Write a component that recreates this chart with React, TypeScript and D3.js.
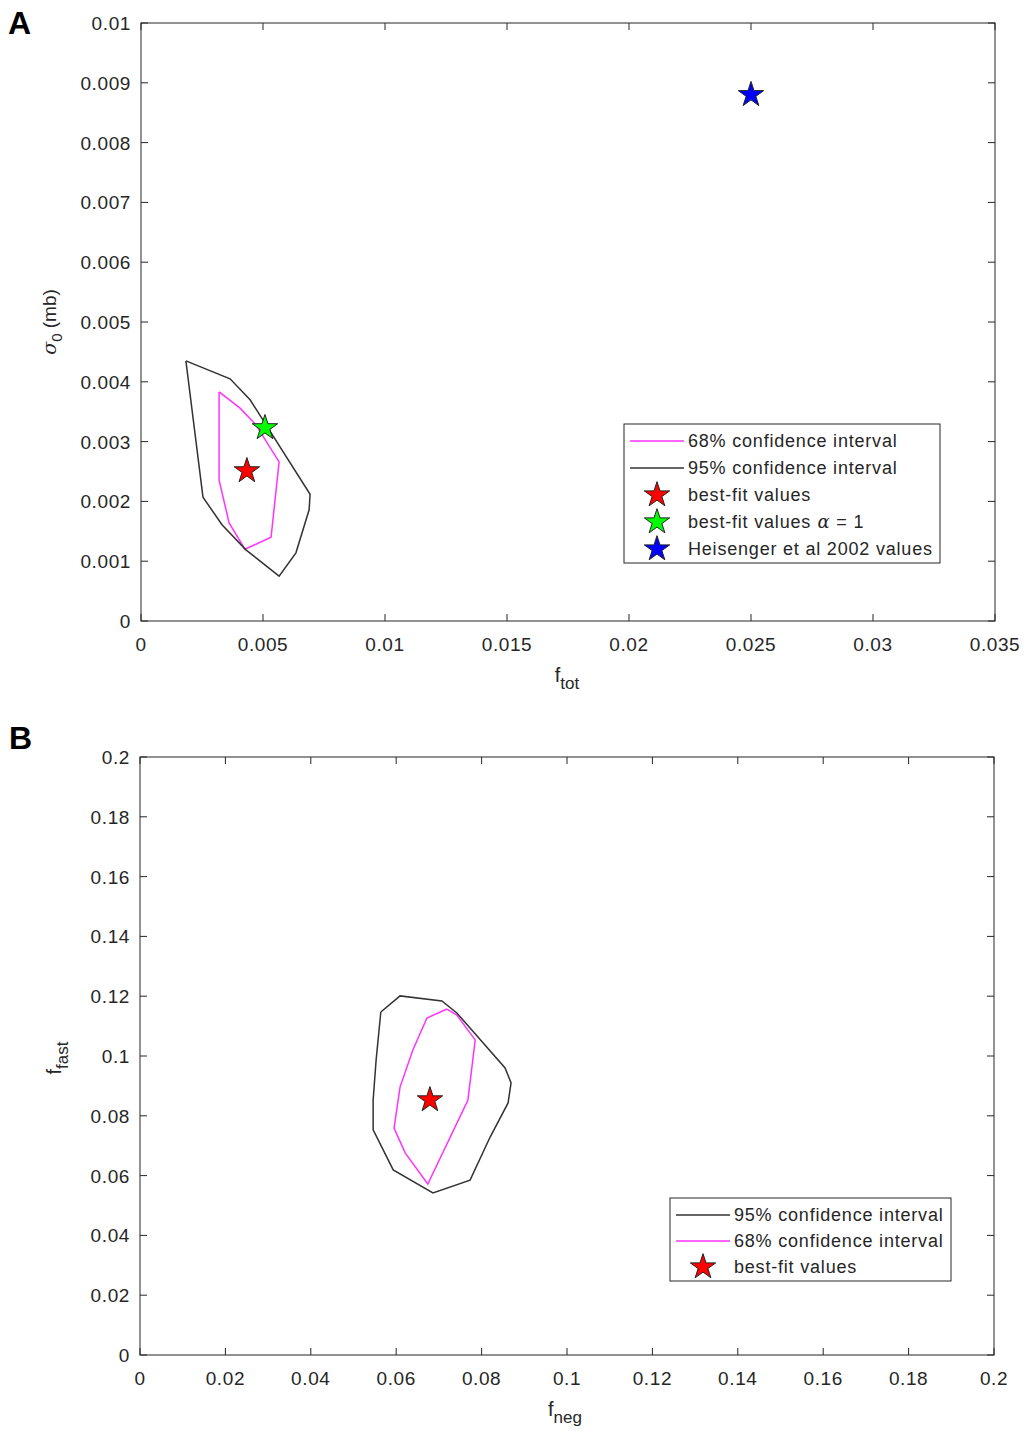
import React, { useRef, useEffect } from "react";
import * as d3 from "d3";

// panel A data: f_tot vs sigma_0
const aContour95: [number, number][] = [
  [0.00184, 0.00435], [0.00365, 0.00405], [0.00447, 0.0037], [0.00693, 0.00212],
  [0.00689, 0.00186], [0.00635, 0.00114], [0.00566, 0.00075], [0.0043, 0.00119],
  [0.00332, 0.00161], [0.00254, 0.00207], [0.00184, 0.00435],
];
const aContour68: [number, number][] = [
  [0.0032, 0.00383], [0.00406, 0.00356], [0.00471, 0.00328], [0.00566, 0.00266],
  [0.00533, 0.0014], [0.00426, 0.0012], [0.00361, 0.00164], [0.0032, 0.00236],
  [0.0032, 0.00383],
];
const aBestFit: [number, number] = [0.00434, 0.00251];
const aBestFitAlpha: [number, number] = [0.00508, 0.00323];
const aHeisenger: [number, number] = [0.025, 0.0088];
const aXTicks = [0, 0.005, 0.01, 0.015, 0.02, 0.025, 0.03, 0.035];
const aYTicks = [0, 0.001, 0.002, 0.003, 0.004, 0.005, 0.006, 0.007, 0.008, 0.009, 0.01];

// panel B data: f_neg vs f_fast
const bContour95: [number, number][] = [
  [0.0564, 0.1147], [0.0609, 0.1201], [0.0707, 0.1184], [0.0742, 0.1144],
  [0.0855, 0.096], [0.0869, 0.091], [0.0862, 0.0843], [0.082, 0.0729],
  [0.0773, 0.0585], [0.0686, 0.0542], [0.0593, 0.0619], [0.0546, 0.0753],
  [0.0546, 0.0853], [0.0553, 0.0987], [0.0564, 0.1147],
];
const bContour68: [number, number][] = [
  [0.0719, 0.1157], [0.0672, 0.1127], [0.0639, 0.102], [0.0609, 0.0896],
  [0.0595, 0.0759], [0.0621, 0.0676], [0.0674, 0.0572], [0.0768, 0.0853],
  [0.0785, 0.1054], [0.0742, 0.1137], [0.0719, 0.1157],
];
const bBestFit: [number, number] = [0.0679, 0.0853];
const bTicks = [0, 0.02, 0.04, 0.06, 0.08, 0.1, 0.12, 0.14, 0.16, 0.18, 0.2];

const FONT = "'Liberation Sans', Arial, sans-serif";
const TXT = "#262626";
const AX = "#262626";
const MAG = "#ff33ff";
const BLK = "#333333";

const fmt = (v: number) => String(+v.toFixed(4));

type Leg = { kind: "line" | "star"; color: string; label: string; alpha?: boolean };

function drawPanel(
  svg: d3.Selection<SVGSVGElement, unknown, null, undefined>,
  opt: {
    box: { x0: number; x1: number; y0: number; y1: number };
    xDom: [number, number]; yDom: [number, number];
    xTicks: number[]; yTicks: number[];
    c95: [number, number][]; c68: [number, number][];
    stars: { p: [number, number]; color: string }[];
    legend: { x: number; y: number; w: number; h: number; rowH: number; items: Leg[] };
  }
) {
  const { box } = opt;
  const x = d3.scaleLinear().domain(opt.xDom).range([box.x0, box.x1]);
  const y = d3.scaleLinear().domain(opt.yDom).range([box.y1, box.y0]);
  const g = svg.append("g");

  g.append("rect").attr("x", box.x0).attr("y", box.y0)
    .attr("width", box.x1 - box.x0).attr("height", box.y1 - box.y0)
    .attr("fill", "white").attr("stroke", AX).attr("stroke-width", 1);

  const tl = 7;
  opt.xTicks.forEach((t) => {
    g.append("line").attr("x1", x(t)).attr("x2", x(t)).attr("y1", box.y1).attr("y2", box.y1 - tl).attr("stroke", AX);
    g.append("line").attr("x1", x(t)).attr("x2", x(t)).attr("y1", box.y0).attr("y2", box.y0 + tl).attr("stroke", AX);
    g.append("text").attr("x", x(t)).attr("y", box.y1 + 30).attr("text-anchor", "middle")
      .attr("font-family", FONT).attr("font-size", 19).attr("letter-spacing", 0.6)
      .attr("fill", TXT).text(fmt(t));
  });
  opt.yTicks.forEach((t) => {
    g.append("line").attr("x1", box.x0).attr("x2", box.x0 + tl).attr("y1", y(t)).attr("y2", y(t)).attr("stroke", AX);
    g.append("line").attr("x1", box.x1).attr("x2", box.x1 - tl).attr("y1", y(t)).attr("y2", y(t)).attr("stroke", AX);
    g.append("text").attr("x", box.x0 - 10).attr("y", y(t) + 7).attr("text-anchor", "end")
      .attr("font-family", FONT).attr("font-size", 19).attr("letter-spacing", 0.6)
      .attr("fill", TXT).text(fmt(t));
  });

  const line = d3.line<[number, number]>().x((d) => x(d[0])).y((d) => y(d[1]));
  g.append("path").attr("d", line(opt.c68)).attr("fill", "none").attr("stroke", MAG).attr("stroke-width", 1.5);
  g.append("path").attr("d", line(opt.c95)).attr("fill", "none").attr("stroke", BLK).attr("stroke-width", 1.5);

  const star = d3.symbol().type(d3.symbolStar).size(200);
  opt.stars.forEach((s) => {
    g.append("path").attr("d", star()).attr("transform", `translate(${x(s.p[0])},${y(s.p[1])})`)
      .attr("fill", s.color).attr("stroke", "#222").attr("stroke-width", 1);
  });

  const L = opt.legend;
  const lg = g.append("g");
  lg.append("rect").attr("x", L.x).attr("y", L.y).attr("width", L.w).attr("height", L.h)
    .attr("fill", "white").attr("stroke", AX);
  L.items.forEach((it, i) => {
    const cy = L.y + 17 + i * L.rowH;
    if (it.kind === "line") {
      lg.append("line").attr("x1", L.x + 6).attr("x2", L.x + 60).attr("y1", cy).attr("y2", cy)
        .attr("stroke", it.color).attr("stroke-width", 1.5);
    } else {
      lg.append("path").attr("d", star()).attr("transform", `translate(${L.x + 33},${cy})`)
        .attr("fill", it.color).attr("stroke", "#222");
    }
    const tx = lg.append("text").attr("x", L.x + 64).attr("y", cy + 6)
      .attr("font-family", FONT).attr("font-size", 18).attr("letter-spacing", 0.8)
      .attr("fill", TXT).text(it.label);
    if (it.alpha) {
      tx.append("tspan").attr("font-family", "'DejaVu Serif', serif").attr("font-style", "italic").text(" α");
      tx.append("tspan").text(" = 1");
    }
  });
  return { x, y };
}

const App = () => {
  const svgRef = useRef<SVGSVGElement>(null);

  useEffect(() => {
    const svg = d3.select(svgRef.current!);
    svg.selectAll("*").remove();
    svg.append("rect").attr("width", 1027).attr("height", 1433).attr("fill", "white");

    drawPanel(svg, {
      box: { x0: 141, x1: 995, y0: 23, y1: 621 },
      xDom: [0, 0.035], yDom: [0, 0.01],
      xTicks: aXTicks, yTicks: aYTicks,
      c95: aContour95, c68: aContour68,
      stars: [
        { p: aBestFit, color: "#ff0000" },
        { p: aBestFitAlpha, color: "#00ff00" },
        { p: aHeisenger, color: "#0000ff" },
      ],
      legend: {
        x: 624, y: 424, w: 316, h: 139, rowH: 27,
        items: [
          { kind: "line", color: MAG, label: "68% confidence interval" },
          { kind: "line", color: BLK, label: "95% confidence interval" },
          { kind: "star", color: "#ff0000", label: "best-fit values" },
          { kind: "star", color: "#00ff00", label: "best-fit values", alpha: true },
          { kind: "star", color: "#0000ff", label: "Heisenger et al 2002 values" },
        ],
      },
    });

    drawPanel(svg, {
      box: { x0: 140, x1: 994, y0: 757, y1: 1355 },
      xDom: [0, 0.2], yDom: [0, 0.2],
      xTicks: bTicks, yTicks: bTicks,
      c95: bContour95, c68: bContour68,
      stars: [{ p: bBestFit, color: "#ff0000" }],
      legend: {
        x: 670, y: 1198, w: 281, h: 83, rowH: 26,
        items: [
          { kind: "line", color: BLK, label: "95% confidence interval" },
          { kind: "line", color: MAG, label: "68% confidence interval" },
          { kind: "star", color: "#ff0000", label: "best-fit values" },
        ],
      },
    });

    // panel letters
    svg.append("text").attr("x", 8).attr("y", 34).attr("font-family", FONT).attr("font-weight", "bold")
      .attr("font-size", 32).attr("fill", "#000").text("A");
    svg.append("text").attr("x", 9).attr("y", 749).attr("font-family", FONT).attr("font-weight", "bold")
      .attr("font-size", 32).attr("fill", "#000").text("B");

    // axis labels
    const lab = (xx: number, yy: number, main: string, sub: string, rot: boolean) => {
      const t = svg.append("text").attr("font-family", FONT).attr("font-size", 20).attr("fill", TXT)
        .attr("text-anchor", "middle");
      if (rot) t.attr("transform", `translate(${xx},${yy}) rotate(-90)`);
      else t.attr("x", xx).attr("y", yy);
      t.append("tspan").text(main);
      t.append("tspan").attr("font-size", 17).attr("dy", 7).text(sub);
      return t;
    };
    lab(567, 682, "f", "tot", false);
    lab(565, 1416, "f", "neg", false);
    lab(61, 1058, "f", "fast", true);
    const sl = svg.append("text").attr("font-family", FONT).attr("font-size", 19).attr("fill", TXT)
      .attr("text-anchor", "middle").attr("transform", "translate(56,322) rotate(-90)");
    sl.append("tspan").attr("font-family", "'DejaVu Serif', serif").attr("font-style", "italic").text("σ");
    sl.append("tspan").attr("font-size", 15).attr("dy", 6).text("0");
    sl.append("tspan").attr("dy", -6).text(" (mb)");
  }, []);

  return (
    <svg ref={svgRef} width={1027} height={1433}
      style={{ position: "absolute", left: 0, top: 0, display: "block" }} />
  );
};

export default App;
